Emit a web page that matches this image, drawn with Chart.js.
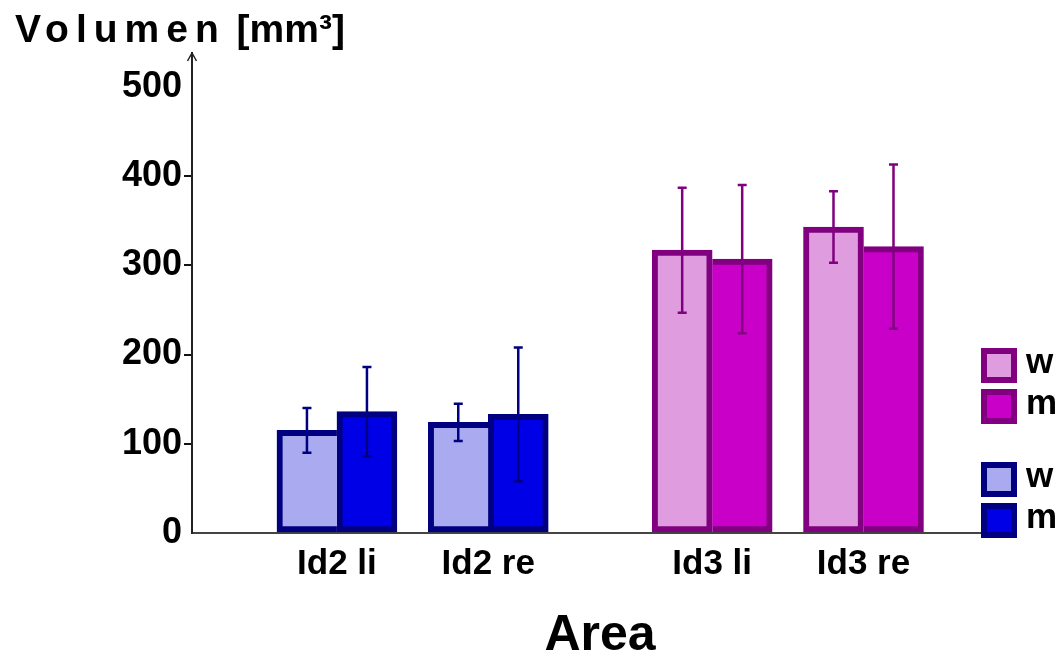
<!DOCTYPE html>
<html>
<head>
<meta charset="utf-8">
<script src="https://cdn.jsdelivr.net/npm/chart.js@4.4.0/dist/chart.umd.min.js"></script>
<style>
  html, body { margin: 0; padding: 0; background: #ffffff; }
  #wrap { width: 1061px; height: 658px; position: relative; }
</style>
</head>
<body>
<div id="wrap"><canvas id="c"></canvas></div>
<script>
// ---------- data ----------
const categories = ['Id2 li', 'Id2 re', 'Id3 li', 'Id3 re'];
const groups = ['Id2', 'Id2', 'Id3', 'Id3'];
const seriesNames = ['w', 'm'];
const wValues = [115, 124, 317, 343];
const mValues = [136, 133, 307, 321];
const wErrors = [25, 21, 70, 40];
const mErrors = [50, 75, 83, 92];
const yTicks = [0, 100, 200, 300, 400, 500];
const yTitle = 'Volumen [mm³]';
const xTitle = 'Area';
const legendItems = [['Id3', 'w'], ['Id3', 'm'], ['Id2', 'w'], ['Id2', 'm']];

// ---------- styles / layout ----------
const FONT = '"Liberation Sans", Arial, Helvetica, sans-serif';
const palette = {
  Id2: { w: '#AAAAF1', m: '#0000E6', edge: '#000080' },
  Id3: { w: '#DF9DDF', m: '#C800C8', edge: '#800080' }
};
const B = 6;              // bar border width
const GROUP_GAP = 0.48;   // extra spacing between category families

let gapAcc = 0;
const xs = categories.map((c, i) => {
  if (i > 0 && groups[i] !== groups[i - 1]) gapAcc += GROUP_GAP;
  return i + gapAcc;
});

const values = [wValues, mValues];
const errors = [wErrors, mErrors];

const datasets = seriesNames.map((s, k) => ({
  label: s,
  data: xs.map((x, i) => ({ x: x, y: values[k][i] })),
  errors: errors[k],
  backgroundColor: groups.map(g => palette[g][s]),
  borderColor: groups.map(g => palette[g].edge),
  borderSkipped: false,
  borderWidth: (ctx) => {
    if (ctx.type !== 'data') return B;
    const i = ctx.dataIndex;
    const shared = values[k][i] >= values[1 - k][i] ? B : 0;
    return k === 0
      ? { top: B, left: B, bottom: B, right: shared }
      : { top: B, left: shared, bottom: B, right: B };
  },
  barThickness: 60,
  grouped: true
}));

const errorBars = {
  id: 'errorBars',
  afterDatasetsDraw(chart) {
    const { ctx } = chart;
    const y = chart.scales.y;
    chart.data.datasets.forEach((ds, k) => {
      const meta = chart.getDatasetMeta(k);
      meta.data.forEach((bar, i) => {
        const v = ds.data[i].y, e = ds.errors[i];
        const x = bar.x;
        const yt = y.getPixelForValue(v + e), yb = y.getPixelForValue(v - e);
        ctx.save();
        ctx.strokeStyle = palette[groups[i]].edge;
        ctx.lineWidth = 2.5;
        ctx.beginPath();
        ctx.moveTo(x, yt); ctx.lineTo(x, yb);
        ctx.moveTo(x - 4.5, yt); ctx.lineTo(x + 4.5, yt);
        ctx.moveTo(x - 4.5, yb); ctx.lineTo(x + 4.5, yb);
        ctx.stroke();
        ctx.restore();
      });
    });
  }
};

const decorations = {
  id: 'decorations',
  afterDraw(chart) {
    const { ctx, chartArea } = chart;
    ctx.save();
    // arrow head on the y axis
    ctx.strokeStyle = '#222';
    ctx.lineWidth = 1.5;
    ctx.beginPath();
    ctx.moveTo(chartArea.left - 4.5, chartArea.top + 8);
    ctx.lineTo(chartArea.left, chartArea.top);
    ctx.lineTo(chartArea.left + 4.5, chartArea.top + 8);
    ctx.stroke();

    // y title (letter-spaced)
    ctx.fillStyle = '#000';
    ctx.textBaseline = 'alphabetic';
    ctx.textAlign = 'left';
    ctx.font = 'bold 39px ' + FONT;
    const parts = yTitle.split(' ');
    const first = parts[0];
    const rest = ' ' + parts.slice(1).join(' ');
    ctx.letterSpacing = '7px';
    ctx.fillText(first, 15, 42);
    const w1 = ctx.measureText(first).width;
    ctx.letterSpacing = '0px';
    ctx.fillText(rest, 15 + w1, 42);

    // x title
    ctx.font = 'bold 50px ' + FONT;
    ctx.textAlign = 'center';
    ctx.fillText(xTitle, 600, 650);

    // legend
    ctx.font = 'bold 35px ' + FONT;
    ctx.textAlign = 'left';
    let top = 348;
    legendItems.forEach(([g, s], idx) => {
      if (idx > 0 && legendItems[idx - 1][0] !== g) top += 32;
      const bx = chartArea.right + 1, bw = 36, bh = 35;
      ctx.fillStyle = palette[g].edge;
      ctx.fillRect(bx, top, bw, bh);
      ctx.fillStyle = palette[g][s];
      ctx.fillRect(bx + B, top + B, bw - 2 * B, bh - 2 * B);
      ctx.fillStyle = '#000';
      ctx.fillText(s, bx + 45, top + 25);
      top += 41;
    });
    ctx.restore();
  }
};

new Chart(document.getElementById('c'), {
  type: 'bar',
  data: { datasets: datasets },
  plugins: [errorBars, decorations],
  options: {
    responsive: true,
    maintainAspectRatio: false,
    animation: false,
    events: [],
    layout: { padding: { left: 0, right: 81, top: 53, bottom: 0 } },
    plugins: { legend: { display: false }, title: { display: false }, tooltip: { enabled: false } },
    scales: {
      x: {
        type: 'linear',
        min: -0.958,
        max: 4.25,
        offset: false,
        grid: { display: false, drawTicks: false },
        border: { display: true, color: '#444', width: 2 },
        afterBuildTicks: (scale) => { scale.ticks = xs.map(v => ({ value: v })); },
        afterFit: (scale) => { scale.height = 125; },
        ticks: {
          autoSkip: false,
          maxRotation: 0,
          padding: 10,
          color: '#000',
          font: { family: FONT, size: 35, weight: 'bold' },
          callback: (value) => { const i = xs.indexOf(value); return i >= 0 ? categories[i] : ''; }
        }
      },
      y: {
        min: 0,
        max: 538,
        afterBuildTicks: (scale) => { scale.ticks = yTicks.map(v => ({ value: v })); },
        afterFit: (scale) => { scale.width = 192; },
        grid: {
          display: true,
          drawOnChartArea: false,
          drawTicks: true,
          tickLength: 8,
          lineWidth: 2,
          color: (ctx) => (ctx.tick && (ctx.tick.value === 0 || ctx.tick.value === 500)) ? 'rgba(0,0,0,0)' : '#111'
        },
        border: { display: true, color: '#222', width: 2 },
        ticks: {
          padding: 2,
          color: '#000',
          font: { family: FONT, size: 36, weight: 'bold' }
        }
      }
    }
  }
});
</script>
</body>
</html>
